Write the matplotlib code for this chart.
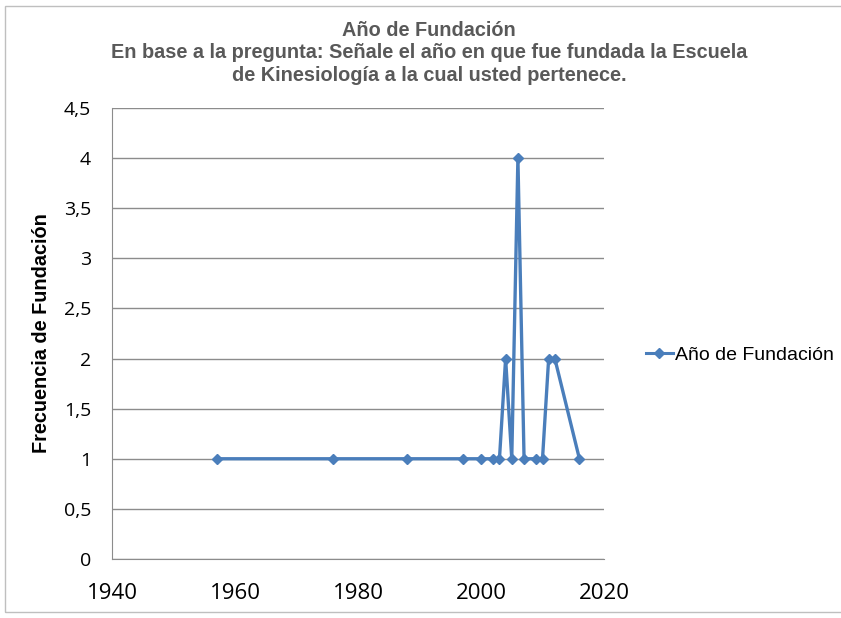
import matplotlib
matplotlib.use("Agg")
import matplotlib.pyplot as plt
from matplotlib.patches import Rectangle
from matplotlib.lines import Line2D

years = [1957, 1976, 1988, 1997, 2000, 2002, 2003, 2004, 2005, 2006, 2007, 2009, 2010, 2011, 2012, 2016]
frecuencia = [1, 1, 1, 1, 1, 1, 1, 2, 1, 4, 1, 1, 1, 2, 2, 1]
y_ticks = [0, 0.5, 1, 1.5, 2, 2.5, 3, 3.5, 4, 4.5]
y_labels = ["0", "0,5", "1", "1,5", "2", "2,5", "3", "3,5", "4", "4,5"]
x_ticks = [1940, 1960, 1980, 2000, 2020]

blue = "#4A7EBB"
grid_gray = "#8C8C8C"

fig = plt.figure(figsize=(8.41, 6.18), dpi=100)
fig.patches.append(Rectangle((0.006, 0.01), 1.2, 0.98, transform=fig.transFigure,
                             fill=False, edgecolor="#BFBFBF", linewidth=1))

ax = fig.add_axes([0.1332, 0.0955, 0.585, 0.7298])
ax.plot(years, frecuencia, color=blue, linewidth=2.4, marker="D", markersize=5,
        markerfacecolor=blue, markeredgecolor=blue, zorder=3)

ax.set_xlim(1940, 2020)
ax.set_ylim(0, 4.5)
ax.set_xticks(x_ticks)
ax.set_yticks(y_ticks)
ax.set_yticklabels(y_labels)
ax.yaxis.grid(True, color=grid_gray, linewidth=1)
ax.set_axisbelow(True)
for s in ["top", "right"]:
    ax.spines[s].set_visible(False)
ax.spines["left"].set_color(grid_gray)
ax.spines["bottom"].set_color(grid_gray)
ax.tick_params(length=0, colors="#000000")
ax.tick_params(axis="x", pad=17, labelsize=16)
ax.tick_params(axis="y", pad=15, labelsize=14)
for lab in ax.get_xticklabels() + ax.get_yticklabels():
    lab.set_fontfamily("Open Sans")

ax.set_ylabel("Frecuencia de Fundación", fontsize=14.3, fontweight="bold",
              fontfamily="Liberation Sans", labelpad=9)

title_kw = dict(ha="center", va="center", fontsize=14.3, fontweight="bold",
                color="#595959", fontfamily="Liberation Sans")
fig.text(0.51, 0.951, "Año de Fundación", **title_kw)
fig.text(0.51, 0.915, "En base a la pregunta: Señale el año en que fue fundada la Escuela", **title_kw)
fig.text(0.51, 0.878, "de Kinesiología a la cual usted pertenece.", **title_kw)

handle = Line2D([], [], color=blue, linewidth=2.2, marker="D", markersize=5)
fig.legend([handle], ["Año de Fundación"], loc="center left",
           bbox_to_anchor=(0.768, 0.4256), frameon=False, handlelength=1.4,
           handletextpad=0.1, borderpad=0, borderaxespad=0,
           prop={"family": "Liberation Sans", "size": 14})

fig.savefig("out.png", dpi=100)
